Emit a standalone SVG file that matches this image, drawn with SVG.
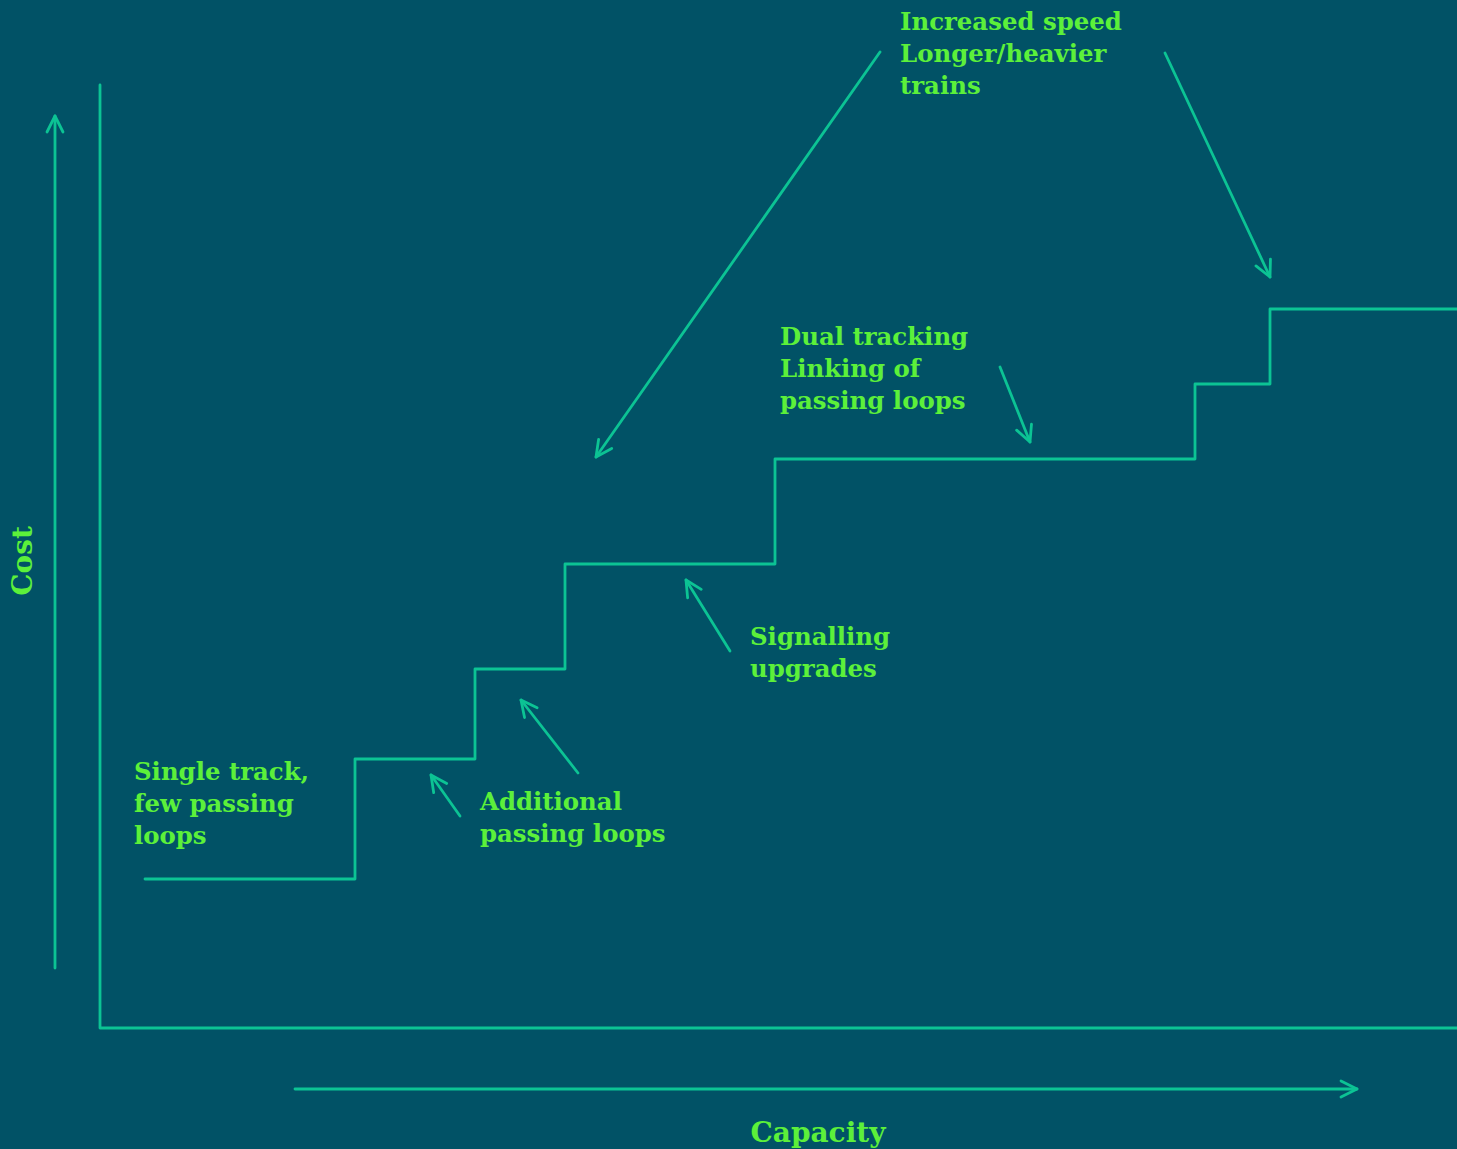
<svg xmlns="http://www.w3.org/2000/svg" width="1457" height="1149" viewBox="0 0 1457 1149">
<style>
.ln{fill:none;stroke:#0cc394;stroke-width:2.8;stroke-linecap:round;stroke-linejoin:round}
.ar{fill:none;stroke:#0cc394;stroke-width:2.8;stroke-linecap:round;marker-end:url(#ah)}
text{font-family:"DejaVu Serif","Liberation Serif",serif;font-weight:bold;font-size:24.4px;fill:#5cf03a}
.ax{font-size:28px}
</style>
<defs>
<marker id="ah" viewBox="0 0 20 20" refX="18" refY="10" markerWidth="20" markerHeight="20" markerUnits="userSpaceOnUse" orient="auto">
<path d="M2,2 L18,10 L2,18" fill="none" stroke="#0cc394" stroke-width="2.8" stroke-linecap="round" stroke-linejoin="round"/>
</marker>
</defs>
<rect width="1457" height="1149" fill="#015266"/>
<g id="axes">
<path class="ln" d="M100,85 L100,1028 L1457,1028"/>
</g>
<g id="connectors">
<path class="ar" d="M55,968 L55,116"/>
<path class="ar" d="M295,1089 L1357,1089"/>
<path class="ln" d="M145,879 L355,879 L355,759 L475,759 L475,669 L565,669 L565,564 L775,564 L775,459 L1195,459 L1195,384 L1270,384 L1270,309 L1457,309"/>
<path class="ar" d="M880,52 L596,457"/>
<path class="ar" d="M1165,53 L1270,277"/>
<path class="ar" d="M1000,367 L1030,442"/>
<path class="ar" d="M730,651 L686,580"/>
<path class="ar" d="M578,773 L521,700"/>
<path class="ar" d="M460,816 L431,775"/>
</g>
<g id="label-speed"><text x="900" y="30">Increased speed</text><text x="900" y="62">Longer/heavier</text><text x="900" y="94">trains</text></g>
<g id="label-dual"><text x="780" y="345">Dual tracking</text><text x="780" y="377">Linking of</text><text x="780" y="409">passing loops</text></g>
<g id="label-signal"><text x="750" y="645">Signalling</text><text x="750" y="677">upgrades</text></g>
<g id="label-single"><text x="134" y="780">Single track,</text><text x="134" y="812">few passing</text><text x="134" y="844">loops</text></g>
<g id="label-additional"><text x="480" y="810">Additional</text><text x="480" y="842">passing loops</text></g>
<g id="label-capacity"><text class="ax" x="818" y="1142" text-anchor="middle">Capacity</text></g>
<g id="label-cost"><text class="ax" x="0" y="0" text-anchor="middle" transform="translate(32,561) rotate(-90)">Cost</text></g>
</svg>
